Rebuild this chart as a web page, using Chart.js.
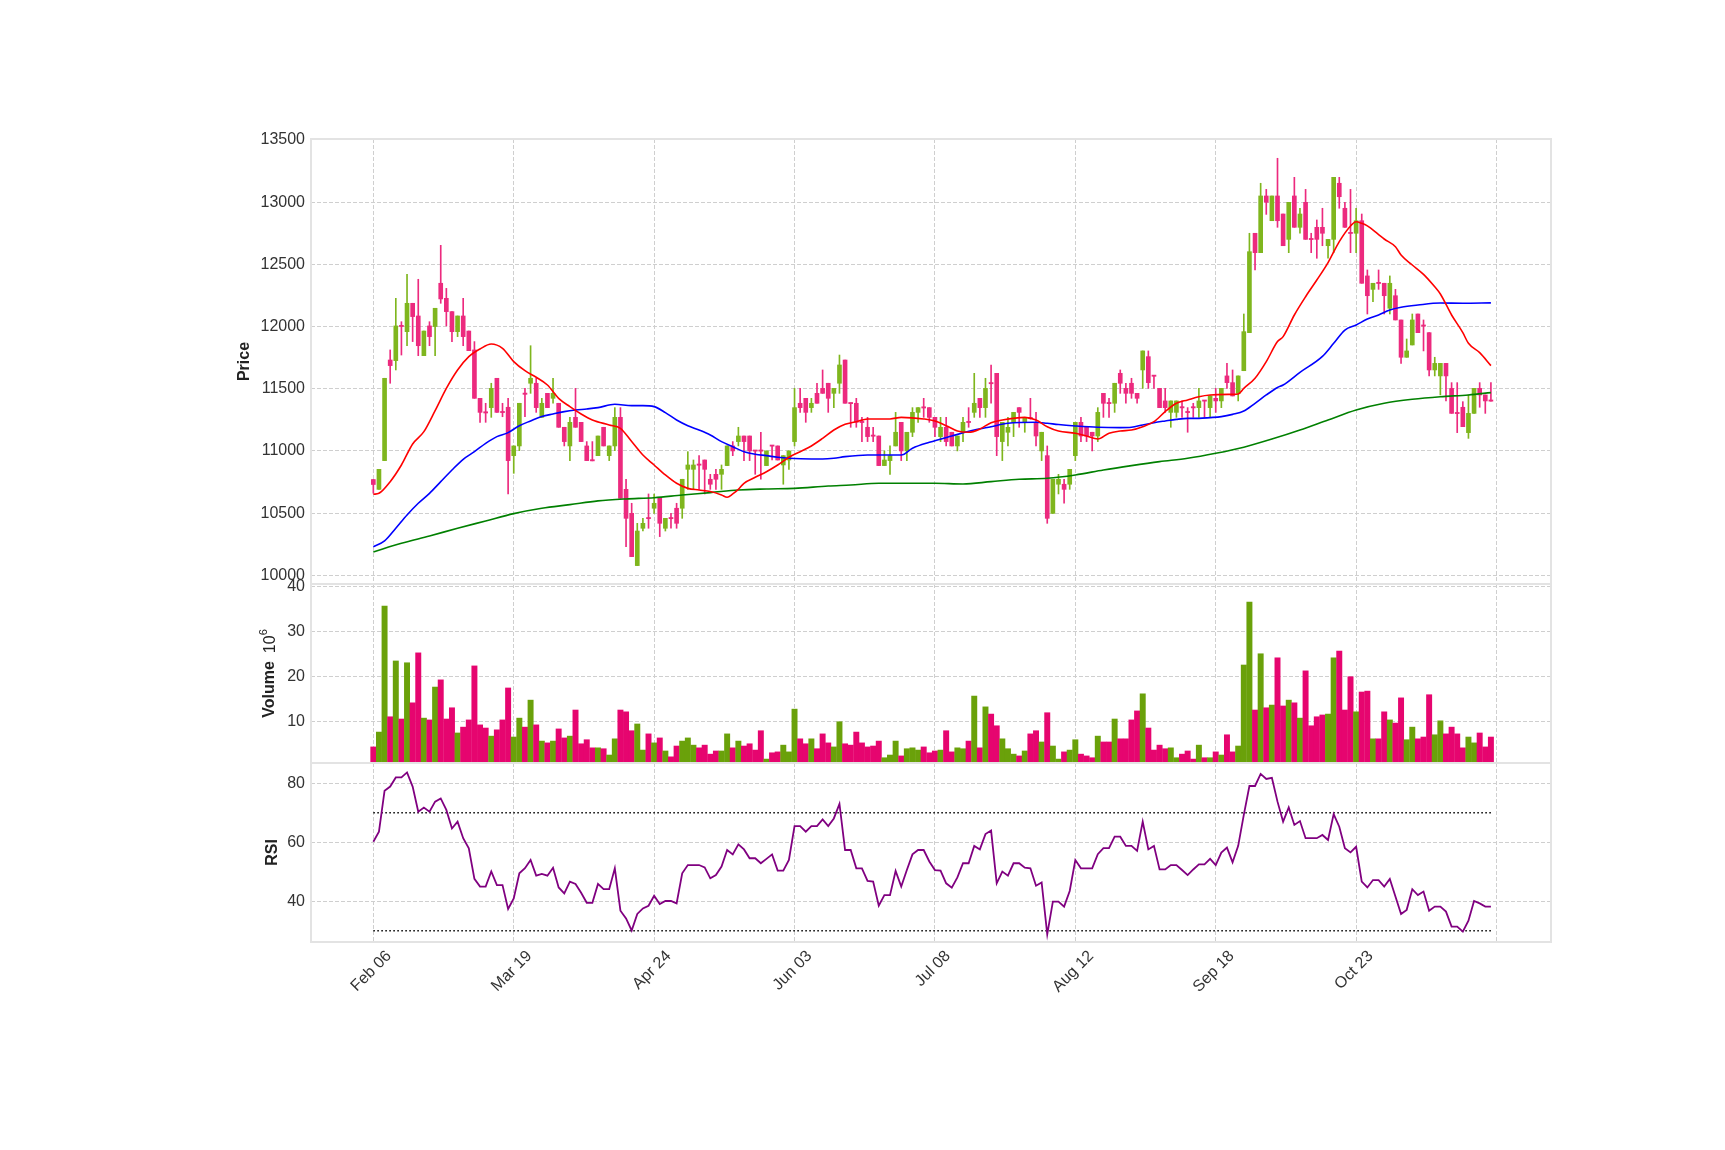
<!DOCTYPE html>
<html>
<head>
<meta charset="utf-8">
<script src="https://cdn.jsdelivr.net/npm/chart.js@4.4.0/dist/chart.umd.min.js"></script>
<style>
  html, body { margin: 0; padding: 0; background: #fff; }
  #wrap { position: relative; width: 1725px; height: 1150px; background: #fff; }
  #wrap canvas { position: absolute; left: 0; top: 0; }
</style>
</head>
<body>
<div id="wrap">
  <canvas id="priceChart" width="1725" height="1150"></canvas>
  <canvas id="volChart" width="1725" height="1150"></canvas>
  <canvas id="rsiChart" width="1725" height="1150"></canvas>
</div>
<script>
// x tick labels (every 25 sessions)
const dateLabels = ['Feb 06', 'Mar 19', 'Apr 24', 'Jun 03', 'Jul 08', 'Aug 12', 'Sep 18', 'Oct 23']
const dateIdx = [0, 25, 50, 75, 100, 125, 150, 175]
const gridIdx = [0, 25, 50, 75, 100, 125, 150, 175, 200]

const priceTicks = [10000, 10500, 11000, 11500, 12000, 12500, 13000, 13500]
const volTicks = [10, 20, 30, 40]
const rsiTicks = [40, 60, 80]

const opens = [10770,10691,10922,11731,11726,12010,11959,12187,12085,11766,12005,12000,12348,12227,12120,11959,12085,11964,11812,11423,
11315,11348,11584,11312,11351,10962,11040,11465,11544,11544,11270,11463,11423,11383,11190,11040,11270,11230,11040,10925,
10962,11190,10962,11040,11270,10691,10498,10078,10378,10460,10539,10619,10378,10460,10539,10539,10852,10852,10890,10927,
10772,10812,10812,10882,11040,11075,11120,11120,11002,11002,10882,11042,11040,10887,10927,11075,11383,11423,11348,11463,
11503,11544,11463,11544,11731,11385,11383,11232,11190,11122,11120,10882,10922,11040,11230,11000,11150,11310,11350,11348,
11270,11115,11190,11150,11040,11150,11232,11310,11423,11348,11546,11624,11075,11150,11230,11348,11230,11265,11230,11000,
10962,10498,10732,10732,10732,10962,11230,11190,11150,11120,11463,11385,11383,11624,11503,11544,11463,11651,11758,11605,
11503,11402,11310,11310,11350,11312,11350,11348,11404,11348,11423,11402,11603,11549,11463,11645,11951,12750,12594,13050,
12851,13050,12905,12701,13050,12798,12999,12703,12798,12798,12650,12701,13152,12951,12752,12750,12851,12407,12299,12350,
12348,12147,12248,12053,11753,11852,12101,12007,11951,11651,11603,11704,11503,11304,11351,11147,11302,11503,11450,11404]
const highs = [10770,10852,11584,11812,12227,12039,12420,12187,12380,11964,12039,12147,12653,12307,12120,12085,12227,11964,11879,11423,
11383,11544,11584,11383,11423,11040,11383,11503,11846,11584,11423,11463,11584,11383,11190,11270,11503,11230,11075,11075,
11120,11190,11040,11348,11348,10772,10579,10418,10458,10654,10654,10619,10458,10498,10579,10772,10994,10927,10962,10927,
10812,10852,10887,11040,11075,11190,11120,11120,11002,11150,11000,11042,11040,10962,11000,11503,11503,11423,11423,11544,
11651,11544,11503,11771,11731,11385,11423,11270,11270,11190,11120,11000,11040,11310,11230,11150,11348,11348,11423,11348,
11270,11270,11270,11150,11120,11270,11348,11624,11423,11584,11691,11624,11230,11270,11310,11348,11270,11423,11310,11150,
11040,10772,10812,10772,10852,11230,11270,11190,11150,11348,11463,11423,11544,11651,11544,11584,11463,11804,11804,11605,
11503,11503,11402,11402,11402,11348,11383,11503,11404,11442,11503,11503,11704,11651,11603,12101,12750,12750,13152,13103,
13050,13353,12905,12999,13200,12951,13103,12750,12857,12951,12701,13200,13200,12999,13103,12951,12905,12455,12348,12455,
12348,12407,12299,12053,11900,12101,12101,12053,11951,11753,11704,11704,11549,11549,11396,11450,11503,11549,11450,11549]
const lows = [10660,10691,10922,11544,11651,11771,11846,11879,11766,11766,11846,11766,12187,12005,11879,11919,11846,11806,11423,11230,
11230,11270,11310,11275,10654,10820,11002,11276,11463,11310,11270,11348,11383,11190,11040,10922,11190,11075,10922,10920,
10962,11040,10922,11002,10619,10230,10150,10078,10356,10378,10498,10311,10356,10378,10378,10458,10691,10691,10691,10654,
10691,10691,10691,10882,10962,11040,10922,10922,10812,10772,10882,10927,10927,10732,10852,11040,11310,11230,11310,11383,
11463,11310,11348,11463,11383,11190,11190,11075,11075,11075,10882,10882,10812,11040,10922,10922,11115,11230,11270,11230,
11115,11075,11040,11040,11000,11075,11190,11270,11270,11270,11383,10962,10922,11040,11115,11190,11150,11255,11040,10922,
10418,10498,10654,10579,10691,10922,11075,11075,11000,11075,11270,11270,11310,11463,11383,11423,11383,11503,11503,11503,
11348,11310,11190,11270,11270,11150,11270,11270,11270,11270,11310,11348,11503,11442,11402,11645,11951,12455,12594,12902,
12851,12798,12650,12594,12798,12750,12701,12594,12549,12650,12549,12594,12951,12798,12594,12594,12348,12101,12200,12299,
12101,12101,12053,11704,11753,11852,11951,11804,11603,11603,11450,11402,11302,11147,11195,11101,11302,11351,11302,11400]
const closes = [10730,10852,11584,11686,12005,12000,12187,12080,11846,11964,11919,12147,12222,12120,11959,12085,11919,11806,11423,11310,
11305,11503,11310,11308,10922,11040,11383,11455,11584,11348,11383,11348,11463,11190,11075,11230,11190,11075,10922,10920,
11120,11040,11040,11270,10619,10458,10150,10356,10418,10455,10579,10418,10458,10455,10418,10772,10887,10887,10885,10852,
10732,10772,10852,11040,11000,11120,11075,11000,10998,10998,11000,11038,10927,10962,11000,11348,11348,11310,11383,11383,
11463,11423,11503,11691,11383,11380,11230,11228,11115,11118,10882,10927,10962,11150,11000,11150,11310,11348,11345,11270,
11190,11190,11075,11040,11120,11230,11228,11383,11348,11503,11540,11115,11230,11190,11310,11310,11270,11260,11120,11150,
10458,10772,10772,10691,10852,11230,11120,11120,11120,11310,11383,11380,11544,11544,11463,11463,11423,11804,11549,11600,
11348,11348,11402,11402,11346,11308,11346,11402,11400,11442,11402,11503,11549,11442,11603,11959,12602,12594,13050,12999,
13050,12851,12650,12999,12798,12905,12701,12699,12701,12750,12701,13200,13044,12798,12748,12851,12348,12248,12348,12346,
12248,12348,12053,11753,11804,12053,11951,12003,11651,11704,11704,11603,11302,11300,11195,11302,11503,11450,11402,11400]

// volume, in millions
const volumes = [4.3,7.6,35.6,11.0,23.4,10.5,23.0,14.1,25.2,10.7,10.3,17.6,19.2,10.5,13.0,7.4,8.7,10.3,22.3,9.2,
8.5,6.7,8.1,10.3,17.4,6.5,10.7,8.7,14.7,9.2,5.6,5.2,5.6,8.3,6.3,6.7,12.5,5.0,5.9,4.1,
4.1,3.9,2.5,6.1,12.5,12.1,7.9,9.4,3.6,7.2,5.2,6.3,3.4,2.1,4.5,5.6,6.3,4.7,4.1,4.7,
2.7,3.4,3.4,7.2,4.1,5.6,4.5,5.0,3.6,7.9,1.6,3.0,3.2,4.7,3.2,12.7,6.1,5.0,6.1,3.9,
7.2,5.2,4.3,9.9,5.0,4.7,7.6,5.2,4.3,4.5,5.6,1.9,2.5,5.6,2.3,3.9,4.1,3.6,4.3,3.0,
3.4,3.6,7.9,3.2,4.1,3.9,5.6,15.6,4.1,13.2,11.6,9.0,6.1,3.9,2.7,2.3,3.4,7.2,7.9,5.4,
11.9,4.5,1.6,3.2,3.6,5.9,2.7,2.3,1.9,6.7,5.4,5.4,10.5,6.1,6.1,10.3,12.3,16.1,8.5,3.6,
4.7,3.9,4.1,1.9,2.7,3.4,1.6,4.7,1.9,1.9,3.2,2.5,7.0,3.2,4.5,22.5,36.5,12.5,25.0,13.0,
13.6,24.1,13.4,14.7,14.1,10.7,21.2,9.0,11.0,11.4,11.6,24.1,25.6,12.5,19.9,12.1,16.5,16.7,6.1,6.1,
12.1,10.3,9.6,15.2,5.9,8.7,6.1,6.5,15.9,7.0,10.1,7.2,8.7,7.2,4.1,6.5,5.2,7.4,4.3,6.5]

const rsi = [60.2,63.6,77.5,78.9,82.0,82.0,83.7,78.9,70.4,71.8,70.4,73.8,74.9,71.0,64.7,67.0,61.4,58.0,47.6,45.0,
45.0,50.1,45.5,45.5,37.4,41.0,49.5,51.2,54.0,48.7,49.3,48.7,51.4,44.7,42.7,46.7,45.9,42.9,39.5,39.5,
45.9,44.1,44.1,51.2,36.8,34.2,30.1,35.7,37.6,38.5,41.9,39.1,40.1,40.1,39.3,49.5,52.3,52.3,52.3,51.5,
47.8,48.9,51.8,57.4,55.9,59.3,57.6,54.6,54.6,52.9,54.4,55.9,50.4,50.4,54.0,65.5,65.5,63.6,65.5,65.5,
67.8,65.5,68.1,73.0,57.4,57.4,51.2,51.2,46.9,46.7,38.5,42.1,42.1,50.3,45.0,50.6,55.9,57.4,57.4,53.5,
50.6,50.4,46.1,44.6,48.1,52.9,52.9,58.8,57.6,62.8,64.0,46.1,50.1,48.7,52.9,52.9,51.4,51.2,45.3,46.4,
28.8,39.9,39.9,38.2,43.5,54.0,51.2,51.2,51.2,56.0,58.0,58.0,61.9,61.9,58.8,58.8,57.1,67.0,57.6,58.8,
50.8,50.8,52.3,52.3,50.6,48.9,50.8,52.5,52.5,54.4,52.3,56.5,58.2,53.2,58.8,69.3,79.1,79.1,83.2,81.5,
81.9,73.8,67.0,71.8,65.9,67.2,61.4,61.4,61.4,62.5,60.8,69.6,65.3,58.0,56.6,58.5,46.7,44.7,47.2,47.2,
45.0,47.6,41.6,35.7,37.1,44.1,42.1,43.3,36.8,38.2,38.2,36.5,31.4,31.4,29.7,33.4,40.1,39.3,38.2,38.2]

// moving averages, read at sample sessions [session, value]
const maFast = [[0,10651],[1,10659],[3,10753],[5,10887],[7,11056],[9,11155],[11,11324],[13,11503],[15,11651],[17,11758],
[19,11820],[21,11860],[23,11825],[25,11718],[27,11645],[29,11592],[31,11530],[33,11423],[35,11356],[37,11297],[39,11249],
[42,11209],[44,11182],[46,11075],[48,10967],[50,10887],[52,10807],[54,10740],[56,10699],[58,10686],[60,10673],[62,10646],
[63,10627],[64,10654],[65,10691],[66,10740],[68,10788],[70,10833],[72,10887],[74,10949],[76,10994],[78,11040],[80,11101],
[82,11168],[84,11214],[86,11235],[88,11257],[92,11257],[94,11270],[98,11257],[100,11241],[102,11203],[104,11160],[106,11150],
[108,11176],[110,11227],[112,11249],[116,11270],[118,11249],[120,11195],[122,11160],[125,11142],[127,11120],[129,11096],
[131,11142],[133,11160],[135,11168],[137,11195],[139,11235],[141,11316],[143,11383],[145,11410],[147,11436],[149,11450],
[153,11455],[154,11458],[155,11503],[157,11584],[159,11718],[161,11879],[162,11919],[164,12093],[166,12240],[168,12374],
[170,12514],[172,12683],[174,12809],[175,12843],[176,12830],[177,12809],[179,12740],[180,12704],[182,12642],[183,12575],
[185,12495],[187,12420],[189,12320],[190,12262],[192,12093],[194,11951],[195,11865],[197,11790],[199,11686]]
const maMid = [[0,10230],[2,10276],[4,10378],[6,10485],[8,10579],[10,10659],[12,10753],[14,10847],[16,10933],[18,10994],
[20,11061],[22,11115],[24,11147],[26,11203],[28,11241],[30,11276],[32,11297],[34,11316],[36,11329],[38,11337],[40,11348],
[43,11375],[46,11364],[48,11364],[50,11356],[52,11308],[54,11249],[56,11203],[58,11168],[60,11128],[62,11075],[64,11034],
[66,10994],[68,10973],[70,10962],[72,10949],[74,10941],[78,10935],[80,10935],[82,10941],[84,10954],[88,10967],[94,10967],
[96,11021],[99,11069],[103,11120],[107,11168],[110,11195],[113,11222],[118,11230],[120,11222],[122,11212],[125,11201],
[129,11190],[133,11187],[135,11190],[137,11209],[139,11227],[141,11241],[143,11254],[145,11262],[147,11262],[149,11268],
[151,11276],[153,11294],[155,11321],[157,11383],[159,11450],[161,11510],[162,11530],[165,11632],[169,11760],[171,11865],
[173,11972],[175,12013],[177,12060],[179,12093],[181,12133],[183,12155],[186,12173],[190,12189],[194,12187],[199,12190]]
const maSlow = [[0,10188],[5,10257],[10,10316],[15,10378],[20,10437],[25,10496],[30,10539],[35,10568],[40,10598],[45,10614],
[50,10624],[55,10646],[60,10665],[65,10686],[70,10694],[75,10699],[81,10718],[85,10726],[90,10740],[95,10740],[100,10740],
[105,10734],[110,10753],[115,10772],[120,10780],[125,10807],[130,10847],[135,10882],[140,10914],[145,10941],[150,10981],
[155,11030],[160,11095],[165,11168],[170,11249],[175,11329],[180,11383],[185,11415],[190,11436],[195,11450],[199,11469]]

const upCandle = '#7fb61e'
const downCandle = '#ec2a7e'
const upVol = '#6aa10a'
const downVol = '#e6056f'
const gridColor = '#cfcfcf'
const fontFam = '"Liberation Sans", Arial, sans-serif'

Chart.defaults.font.family = fontFam
Chart.defaults.font.size = 16
Chart.defaults.color = '#333'

const isUp = closes.map((c, i) => c >= opens[i])

// box around each panel
const frame = {
    id: 'frame',
    afterDraw(chart) {
        const {ctx, chartArea: a} = chart
        ctx.save()
        ctx.strokeStyle = '#e3e3e3'
        ctx.lineWidth = 2
        ctx.strokeRect(a.left, a.top, a.right - a.left, a.bottom - a.top)
        ctx.restore()
    }
}

// rotated y titles (Volume gets the 10^6 multiplier)
const sideTitle = {
    id: 'sideTitle',
    afterDraw(chart, args, opts) {
        if (!opts.text) return
        const {ctx, chartArea: a} = chart
        ctx.save()
        ctx.translate(opts.x, (a.top + a.bottom) / 2)
        ctx.rotate(-Math.PI / 2)
        ctx.fillStyle = '#222'
        ctx.textBaseline = 'middle'
        ctx.textAlign = 'left'
        ctx.font = 'bold 16px ' + fontFam
        const w1 = ctx.measureText(opts.text).width
        let w2 = 0, w3 = 0
        if (opts.power) {
            ctx.font = '16px ' + fontFam
            w2 = ctx.measureText('10').width
            ctx.font = '11px ' + fontFam
            w3 = ctx.measureText(opts.power).width
        }
        const total = w1 + (opts.power ? 8 + w2 + w3 : 0)
        let x = -total / 2
        ctx.font = 'bold 16px ' + fontFam
        ctx.fillText(opts.text, x, 0)
        if (opts.power) {
            x += w1 + 8
            ctx.font = '16px ' + fontFam
            ctx.fillText('10', x, 1)
            x += w2
            ctx.font = '11px ' + fontFam
            ctx.fillText(opts.power, x, -6)
        }
        ctx.restore()
    }
}

// 45 degree date labels centred under each tick
const dateAxis = {
    id: 'dateAxis',
    afterDraw(chart) {
        const {ctx, chartArea: a} = chart
        const xs = chart.scales.x
        ctx.save()
        ctx.font = '16px ' + fontFam
        ctx.fillStyle = '#333'
        ctx.textAlign = 'center'
        ctx.textBaseline = 'middle'
        dateLabels.forEach((t, k) => {
            const px = xs.getPixelForValue(dateIdx[k])
            const w = ctx.measureText(t).width
            const bb = (w + 16) * Math.SQRT1_2
            ctx.save()
            ctx.translate(px - 2, a.bottom + 6 + bb / 2)
            ctx.rotate(-Math.PI / 4)
            ctx.fillText(t, 0, 0)
            ctx.restore()
        })
        ctx.restore()
    }
}

function xAxis() {
    return {
        type: 'linear', min: -11.1, max: 209.7, offset: false,
        afterBuildTicks: s => { s.ticks = gridIdx.map(v => ({value: v})) },
        afterFit: s => { s.height = 0 },
        ticks: {display: false},
        grid: {color: gridColor, lineWidth: 1, drawTicks: false, offset: false},
        border: {display: false, dash: [4, 2]}
    }
}

function yAxis(min, max, ticks) {
    return {
        type: 'linear', min: min, max: max,
        afterBuildTicks: s => { s.ticks = ticks.map(v => ({value: v})) },
        afterFit: s => { s.width = 60 },
        ticks: {padding: 6, color: '#333', font: {size: 16}, callback: v => String(v)},
        grid: {color: gridColor, lineWidth: 1, drawTicks: false},
        border: {display: false, dash: [4, 2]}
    }
}

function basePlugins(title) {
    return {legend: {display: false}, tooltip: {enabled: false}, sideTitle: title}
}

// price panel
new Chart(document.getElementById('priceChart'), {
    type: 'bar',
    data: {
        datasets: [
            {type: 'line', data: maFast.map(p => ({x: p[0], y: p[1]})), borderColor: '#ff0000', borderWidth: 1.6,
             pointRadius: 0, cubicInterpolationMode: 'monotone', order: 0},
            {type: 'line', data: maMid.map(p => ({x: p[0], y: p[1]})), borderColor: '#0000ff', borderWidth: 1.6,
             pointRadius: 0, cubicInterpolationMode: 'monotone', order: 0},
            {type: 'line', data: maSlow.map(p => ({x: p[0], y: p[1]})), borderColor: '#008000', borderWidth: 1.6,
             pointRadius: 0, cubicInterpolationMode: 'monotone', order: 0},
            {data: opens.map((o, i) => ({x: i, y: [o, closes[i]]})),
             backgroundColor: isUp.map(u => u ? upCandle : downCandle),
             barThickness: 4, maxBarThickness: 4, minBarLength: 1.2, grouped: false, order: 1},
            {data: opens.map((o, i) => ({x: i, y: [lows[i], highs[i]]})),
             backgroundColor: isUp.map(u => u ? upCandle : downCandle),
             barThickness: 1, maxBarThickness: 1, grouped: false, order: 2}
        ]
    },
    options: {
        responsive: false, animation: false,
        layout: {padding: {left: 251, right: 174, top: 139, bottom: 566}},
        scales: {x: xAxis(), y: yAxis(9930, 13508, priceTicks)},
        plugins: basePlugins({text: 'Price', x: 245})
    },
    plugins: [frame, sideTitle]
})

// volume panel
new Chart(document.getElementById('volChart'), {
    type: 'bar',
    data: {
        datasets: [{
            data: volumes.map((v, i) => ({x: i, y: v})),
            backgroundColor: isUp.map(u => u ? upVol : downVol),
            barThickness: 5.3, maxBarThickness: 5.3, grouped: false
        }]
    },
    options: {
        responsive: false, animation: false,
        layout: {padding: {left: 251, right: 174, top: 584, bottom: 387}},
        scales: {x: xAxis(), y: yAxis(0.73, 40.5, volTicks)},
        plugins: basePlugins({text: 'Volume', power: '6', x: 270})
    },
    plugins: [frame, sideTitle]
})

// RSI panel
new Chart(document.getElementById('rsiChart'), {
    type: 'line',
    data: {
        datasets: [
            {data: rsi.map((v, i) => ({x: i, y: v})), borderColor: '#800080', borderWidth: 1.8, pointRadius: 0, tension: 0},
            {data: [{x: 0, y: 70}, {x: 199, y: 70}], borderColor: '#000', borderWidth: 1.5, borderDash: [1.5, 2.5], pointRadius: 0},
            {data: [{x: 0, y: 30}, {x: 199, y: 30}], borderColor: '#000', borderWidth: 1.5, borderDash: [1.5, 2.5], pointRadius: 0}
        ]
    },
    options: {
        responsive: false, animation: false,
        layout: {padding: {left: 251, right: 174, top: 763, bottom: 208}},
        scales: {x: xAxis(), y: yAxis(26.2, 86.9, rsiTicks)},
        plugins: basePlugins({text: 'RSI', x: 273})
    },
    plugins: [frame, sideTitle, dateAxis]
})
</script>
</body>
</html>
